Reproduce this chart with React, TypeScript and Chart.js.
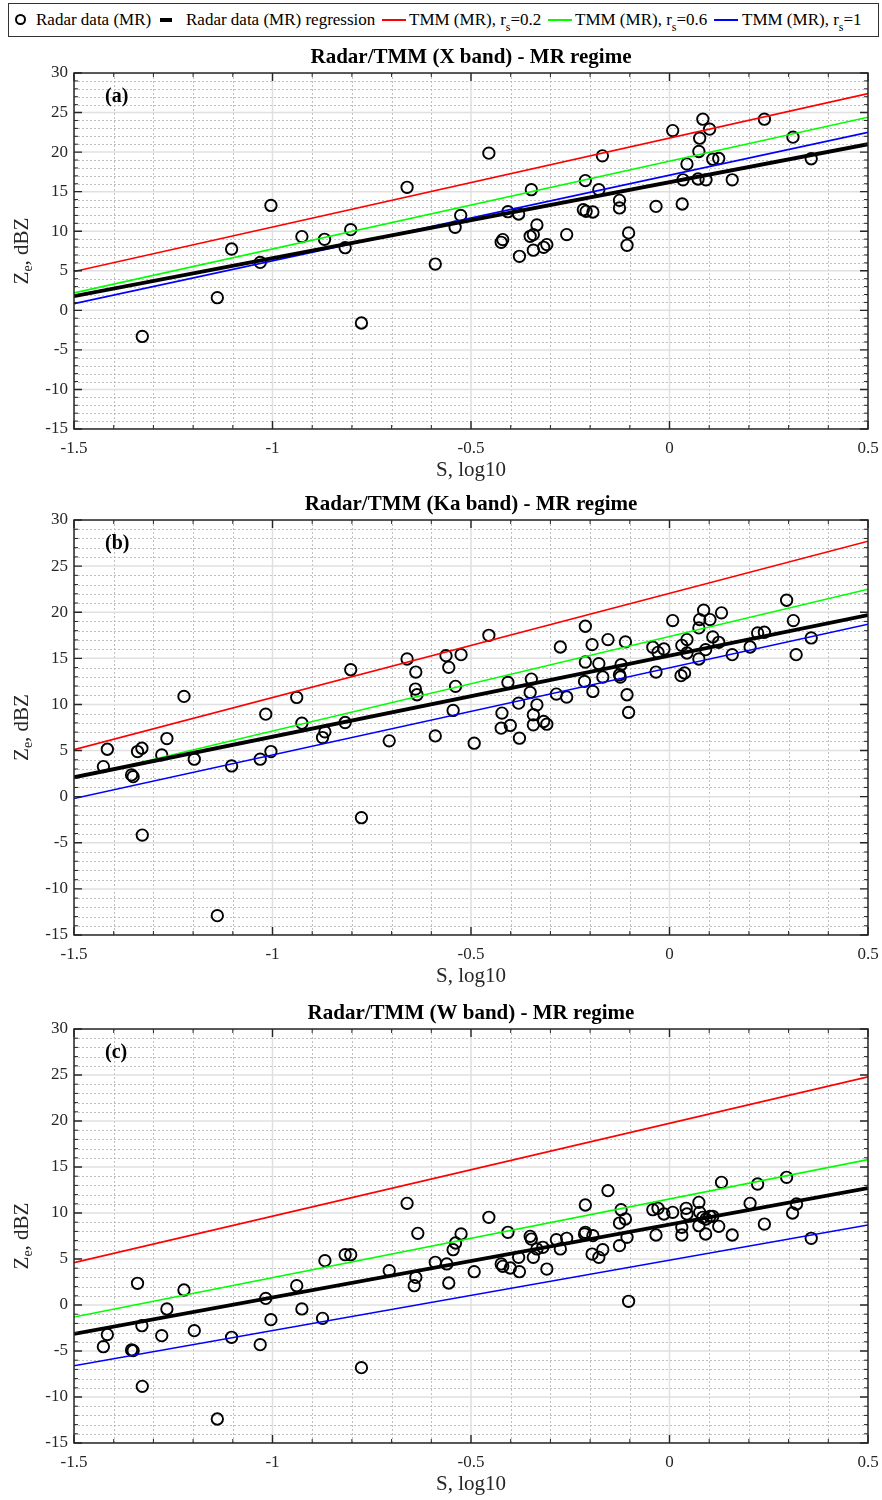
import { useEffect, useRef } from "react";
import { Chart, registerables } from "chart.js";

Chart.register(...registerables);

const SERIF = '"Liberation Serif", "Times New Roman", Times, serif';
const AXIS_COLOR = "#262626";

// Axis ticks (S in log10, Ze in dBZ)
const S_TICKS = [-1.5, -1, -0.5, 0, 0.5];
const Z_TICKS = [-15, -10, -5, 0, 5, 10, 15, 20, 25, 30];

// S end points of the straight lines
const LINE_S = [-1.5, 0.5];

// ---- X band ----
const X_S = [
  -1.328, -1.139, -1.103, -1.031, -1.004, -0.926, -0.869, -0.817, -0.803, -0.776, -0.661, -0.59,
  -0.54, -0.526, -0.455, -0.424, -0.42, -0.407, -0.38, -0.378, -0.348, -0.351, -0.343, -0.334,
  -0.343, -0.317, -0.309, -0.259, -0.212, -0.217, -0.21, -0.193, -0.178, -0.169, -0.126, -0.126,
  -0.103, -0.107, -0.034, 0.008, 0.032, 0.034, 0.044, 0.072, 0.074, 0.076, 0.084, 0.092, 0.101,
  0.109, 0.124, 0.158, 0.239, 0.311, 0.357,
];
const X_Z = [
  -3.3, 1.6, 7.75, 6.06, 13.26, 9.32, 8.98, 7.92, 10.2, -1.6, 15.55, 5.85,
  10.5, 12.0, 19.87, 8.6, 8.94, 12.47, 12.18, 6.83, 15.25, 9.36, 9.57, 10.79,
  7.6, 7.97, 8.31, 9.57, 16.4, 12.72, 12.51, 12.43, 15.25, 19.53, 13.9, 12.94,
  9.79, 8.22, 13.14, 22.72, 13.44, 16.5, 18.49, 16.6, 20.08, 21.76, 24.16, 16.5, 22.9,
  19.1, 19.19, 16.5, 24.16, 21.89, 19.16,
];
const X_REGRESSION = [1.8, 21.0];
const X_RS02 = [4.9, 27.4];
const X_RS06 = [2.2, 24.4];
const X_RS1 = [0.85, 22.5];

// ---- Ka band ----
const KA_S = [
  -1.426, -1.416, -1.355, -1.351, -1.34, -1.329, -1.328, -1.279, -1.266, -1.223, -1.197, -1.139,
  -1.103, -1.031, -1.017, -1.004, -0.939, -0.926, -0.874, -0.868, -0.817, -0.803, -0.776, -0.706,
  -0.661, -0.64, -0.639, -0.636, -0.59, -0.563, -0.556, -0.545, -0.539, -0.525, -0.492,
  -0.455, -0.422, -0.424, -0.407, -0.401, -0.378, -0.38, -0.348, -0.351, -0.343, -0.334, -0.343,
  -0.317, -0.309, -0.285, -0.275, -0.259, -0.212, -0.212, -0.214, -0.195, -0.193, -0.178, -0.168,
  -0.155, -0.122, -0.126, -0.124, -0.111, -0.107, -0.103, -0.042, -0.034, -0.029, -0.014, 0.008,
  0.031, 0.029, 0.038, 0.044, 0.044, 0.074, 0.074, 0.076, 0.086, 0.091, 0.102, 0.109, 0.124,
  0.131, 0.158, 0.203, 0.222, 0.239, 0.295, 0.312, 0.319, 0.357,
];
const KA_Z = [
  3.26, 5.14, 2.36, 2.17, 4.89, 5.25, -4.17, 4.53, 6.3, 10.87, 4.06, -12.9,
  3.33, 4.06, 8.95, 4.89, 10.76, 7.97, 6.41, 7.03, 8.04, 13.77, -2.28, 6.05,
  14.93, 11.67, 13.51, 11.05, 6.59, 15.29, 14.02, 9.35, 11.96, 15.4, 5.8,
  17.5, 9.06, 7.43, 12.39, 7.72, 6.34, 10.14, 12.75, 11.3, 8.88, 9.96, 7.79,
  8.15, 7.86, 11.12, 16.23, 10.8, 18.48, 14.6, 12.5, 16.49, 11.41, 14.42, 12.97,
  17.03, 14.31, 13.22, 12.97, 16.78, 11.05, 9.13, 16.2, 13.51, 15.65, 16.01, 19.09,
  16.41, 13.12, 13.41, 17.03, 15.58, 14.93, 18.3, 19.2, 20.22, 15.94, 19.2, 17.32, 16.74,
  19.93, 15.4, 16.23, 17.75, 17.83, 21.3, 19.09, 15.4, 17.21,
];
const KA_REGRESSION = [2.1, 19.7];
const KA_RS02 = [5.1, 27.7];
const KA_RS06 = [2.0, 22.5];
const KA_RS1 = [-0.2, 18.7];

// ---- W band ----
const W_S = [
  -1.426, -1.416, -1.355, -1.351, -1.34, -1.329, -1.328, -1.279, -1.266, -1.223, -1.197, -1.139,
  -1.103, -1.031, -1.017, -1.004, -0.939, -0.926, -0.874, -0.868, -0.817, -0.803, -0.776, -0.706,
  -0.661, -0.643, -0.639, -0.634, -0.59, -0.561, -0.556, -0.545, -0.539, -0.525, -0.492,
  -0.455, -0.424, -0.42, -0.407, -0.401, -0.378, -0.38, -0.351, -0.348, -0.343, -0.334, -0.319,
  -0.309, -0.285, -0.275, -0.259, -0.212, -0.212, -0.214, -0.193, -0.195, -0.178, -0.168, -0.155,
  -0.126, -0.122, -0.126, -0.111, -0.107, -0.103, -0.042, -0.034, -0.029, -0.014, 0.008, 0.031,
  0.031, 0.042, 0.044, 0.074, 0.074, 0.076, 0.084, 0.091, 0.092, 0.102, 0.109, 0.124, 0.131,
  0.158, 0.203, 0.222, 0.239, 0.295, 0.31, 0.32, 0.357,
];
const W_Z = [
  -4.53, -3.22, -4.89, -4.96, 2.36, -2.25, -8.84, -3.33, -0.43, 1.63, -2.79, -12.39,
  -3.51, -4.31, 0.72, -1.59, 2.1, -0.43, -1.45, 4.82, 5.47, 5.47, -6.81, 3.73,
  11.05, 2.1, 3.0, 7.79, 4.64, 4.46, 2.39, 6.01, 6.74, 7.72, 3.62,
  9.53, 4.46, 4.2, 7.9, 4.02, 3.62, 5.18, 7.46, 7.17, 5.18, 6.09, 6.27,
  3.91, 7.1, 6.09, 7.25, 10.87, 7.9, 7.72, 7.54, 5.54, 5.18, 6.01, 12.43,
  6.45, 10.36, 8.91, 9.35, 7.36, 0.4, 10.36, 7.61, 10.51, 9.89, 10.07, 8.44,
  7.61, 10.51, 9.89, 11.16, 8.62, 10.07, 9.53, 7.72, 9.35, 9.64, 9.64, 8.55, 13.33,
  7.61, 11.05, 13.15, 8.8, 13.88, 10.0, 10.98, 7.25,
];
const W_REGRESSION = [-3.15, 12.7];
const W_RS02 = [4.6, 24.8];
const W_RS06 = [-1.3, 15.8];
const W_RS1 = [-6.6, 8.7];

type Panel = {
  title: string;
  tag: string;
  s: number[];
  z: number[];
  regression: number[];
  rs02: number[];
  rs06: number[];
  rs1: number[];
  top: number;
  height: number;
};

const PANELS: Panel[] = [
  { title: "Radar/TMM (X band) - MR regime", tag: "(a)", s: X_S, z: X_Z, regression: X_REGRESSION, rs02: X_RS02, rs06: X_RS06, rs1: X_RS1, top: 40, height: 445 },
  { title: "Radar/TMM (Ka band) - MR regime", tag: "(b)", s: KA_S, z: KA_Z, regression: KA_REGRESSION, rs02: KA_RS02, rs06: KA_RS06, rs1: KA_RS1, top: 487, height: 504 },
  { title: "Radar/TMM (W band) - MR regime", tag: "(c)", s: W_S, z: W_Z, regression: W_REGRESSION, rs02: W_RS02, rs06: W_RS06, rs1: W_RS1, top: 996, height: 503 },
];

type Part = { t: string; sub?: boolean };

// Draws a run of text with optional subscript pieces, centred on (x, y)
function drawRich(ctx: CanvasRenderingContext2D, parts: Part[], x: number, y: number, size: number) {
  const fontFor = (p: Part) => `${p.sub ? Math.round(size * 0.68) : size}px ${SERIF}`;
  let total = 0;
  const widths = parts.map((p) => {
    ctx.font = fontFor(p);
    const w = ctx.measureText(p.t).width;
    total += w;
    return w;
  });
  let cx = x - total / 2;
  ctx.textAlign = "left";
  ctx.textBaseline = "middle";
  parts.forEach((p, i) => {
    ctx.font = fontFor(p);
    ctx.fillText(p.t, cx, p.sub ? y + size * 0.32 : y);
    cx += widths[i];
  });
}

function minorValues(major: number[], parts: number): number[] {
  const out: number[] = [];
  for (let i = 0; i < major.length - 1; i++) {
    const a = major[i];
    const b = major[i + 1];
    for (let k = 1; k < parts; k++) out.push(a + ((b - a) * k) / parts);
  }
  return out;
}

function framePlugin(panel: Panel) {
  return {
    id: "frame",
    beforeDatasetsDraw(chart: any) {
      const { ctx, chartArea: a } = chart;
      const xs = chart.scales.x;
      const ys = chart.scales.y;
      const xMajor = xs.ticks.map((t: any) => t.value);
      const yMajor = ys.ticks.map((t: any) => t.value);
      ctx.save();
      ctx.beginPath();
      ctx.rect(a.left, a.top, a.right - a.left, a.bottom - a.top);
      ctx.clip();
      // minor grid, dotted
      ctx.strokeStyle = "#bfbfbf";
      ctx.lineWidth = 1;
      ctx.setLineDash([2, 2]);
      minorValues(xMajor, 5).forEach((v) => {
        const p = Math.round(xs.getPixelForValue(v)) + 0.5;
        ctx.beginPath();
        ctx.moveTo(p, a.top);
        ctx.lineTo(p, a.bottom);
        ctx.stroke();
      });
      minorValues(yMajor, 5).forEach((v) => {
        const p = Math.round(ys.getPixelForValue(v)) + 0.5;
        ctx.beginPath();
        ctx.moveTo(a.left, p);
        ctx.lineTo(a.right, p);
        ctx.stroke();
      });
      // major grid, solid
      ctx.setLineDash([]);
      ctx.strokeStyle = "#e0e0e0";
      ctx.lineWidth = 1.5;
      xMajor.forEach((v: number) => {
        const p = xs.getPixelForValue(v);
        ctx.beginPath();
        ctx.moveTo(p, a.top);
        ctx.lineTo(p, a.bottom);
        ctx.stroke();
      });
      yMajor.forEach((v: number) => {
        const p = ys.getPixelForValue(v);
        ctx.beginPath();
        ctx.moveTo(a.left, p);
        ctx.lineTo(a.right, p);
        ctx.stroke();
      });
      ctx.restore();
    },
    afterDraw(chart: any) {
      const { ctx, chartArea: a } = chart;
      const xs = chart.scales.x;
      const ys = chart.scales.y;
      const xMajor = xs.ticks.map((t: any) => t.value);
      const yMajor = ys.ticks.map((t: any) => t.value);
      ctx.save();
      ctx.strokeStyle = AXIS_COLOR;
      ctx.lineWidth = 1.4;
      // inward ticks on all four sides
      const tickX = (v: number, len: number) => {
        const p = xs.getPixelForValue(v);
        ctx.beginPath();
        ctx.moveTo(p, a.bottom);
        ctx.lineTo(p, a.bottom - len);
        ctx.moveTo(p, a.top);
        ctx.lineTo(p, a.top + len);
        ctx.stroke();
      };
      const tickY = (v: number, len: number) => {
        const p = ys.getPixelForValue(v);
        ctx.beginPath();
        ctx.moveTo(a.left, p);
        ctx.lineTo(a.left + len, p);
        ctx.moveTo(a.right, p);
        ctx.lineTo(a.right - len, p);
        ctx.stroke();
      };
      xMajor.forEach((v: number) => tickX(v, 8));
      yMajor.forEach((v: number) => tickY(v, 8));
      ctx.lineWidth = 1;
      minorValues(xMajor, 5).forEach((v) => tickX(v, 4));
      minorValues(yMajor, 5).forEach((v) => tickY(v, 4));
      // axes box
      ctx.lineWidth = 1.5;
      ctx.strokeRect(a.left, a.top, a.right - a.left, a.bottom - a.top);

      const cx = (a.left + a.right) / 2;
      const cy = (a.top + a.bottom) / 2;
      // title
      ctx.fillStyle = "#000";
      ctx.font = `bold 21px ${SERIF}`;
      ctx.textAlign = "center";
      ctx.textBaseline = "middle";
      ctx.fillText(panel.title, cx, a.top - 15);
      // panel tag
      ctx.font = `bold 20px ${SERIF}`;
      ctx.textAlign = "left";
      ctx.fillText(panel.tag, a.left + 31, a.top + 24);
      // x axis title
      ctx.fillStyle = AXIS_COLOR;
      ctx.font = `21px ${SERIF}`;
      ctx.textAlign = "center";
      ctx.fillText("S, log10", cx, a.bottom + 41);
      // y axis title with subscript
      ctx.translate(22, cy);
      ctx.rotate(-Math.PI / 2);
      drawRich(ctx, [{ t: "Z" }, { t: "e", sub: true }, { t: ", dBZ" }], 0, 0, 21);
      ctx.restore();
    },
  };
}

function lineSet(values: number[], color: string, width: number) {
  return {
    type: "line" as const,
    data: LINE_S.map((s, i) => ({ x: s, y: values[i] })),
    borderColor: color,
    borderWidth: width,
    pointRadius: 0,
    fill: false,
    tension: 0,
    showLine: true,
  };
}

function makeConfig(panel: Panel): any {
  const tickFont = { family: SERIF, size: 17 };
  return {
    type: "scatter",
    data: {
      datasets: [
        lineSet(panel.regression, "#000000", 3.8),
        lineSet(panel.rs02, "#ff0000", 1.6),
        lineSet(panel.rs06, "#00ff00", 1.6),
        lineSet(panel.rs1, "#0000ff", 1.6),
        {
          type: "scatter",
          data: panel.s.map((s, i) => ({ x: s, y: panel.z[i] })),
          pointStyle: "circle",
          pointRadius: 5.7,
          borderWidth: 1.9,
          borderColor: "#000000",
          backgroundColor: "rgba(0,0,0,0)",
          showLine: false,
        },
      ],
    },
    options: {
      animation: false,
      responsive: false,
      maintainAspectRatio: false,
      events: [],
      layout: { padding: { top: 33, right: 14, left: 0, bottom: 0 } },
      plugins: { legend: { display: false }, tooltip: { enabled: false }, title: { display: false } },
      scales: {
        x: {
          type: "linear",
          min: S_TICKS[0],
          max: S_TICKS[S_TICKS.length - 1],
          grid: { display: false, drawTicks: false },
          border: { display: false },
          ticks: {
            stepSize: S_TICKS[1] - S_TICKS[0],
            font: tickFont,
            color: AXIS_COLOR,
            padding: 9,
            maxRotation: 0,
            autoSkip: false,
            callback: (v: number) => String(Math.round(v * 10) / 10),
          },
          afterFit: (scale: any) => {
            scale.height = 56;
            scale.paddingLeft = 0;
            scale.paddingRight = 0;
          },
        },
        y: {
          type: "linear",
          min: Z_TICKS[0],
          max: Z_TICKS[Z_TICKS.length - 1],
          grid: { display: false, drawTicks: false },
          border: { display: false },
          ticks: {
            stepSize: Z_TICKS[1] - Z_TICKS[0],
            font: tickFont,
            color: AXIS_COLOR,
            padding: 6,
            autoSkip: false,
            callback: (v: number) => String(Math.round(v)),
          },
          afterFit: (scale: any) => {
            scale.width = 74;
            scale.paddingTop = 0;
            scale.paddingBottom = 0;
          },
        },
      },
    },
    plugins: [framePlugin(panel)],
  };
}

function PanelChart({ panel }: { panel: Panel }) {
  const ref = useRef<HTMLCanvasElement>(null);
  useEffect(() => {
    if (!ref.current) return;
    const chart = new Chart(ref.current, makeConfig(panel));
    return () => chart.destroy();
  }, [panel]);
  return (
    <canvas
      ref={ref}
      width={882}
      height={panel.height}
      style={{ position: "absolute", left: 0, top: panel.top, width: 882, height: panel.height }}
    />
  );
}

const LEGEND_FONT = 17;

function Sub({ children }: { children: string }) {
  return <span style={{ fontSize: 12, position: "relative", top: 6 }}>{children}</span>;
}

function Legend() {
  const txt = (left: number) =>
    ({ position: "absolute", left, top: 6, lineHeight: "20px", whiteSpace: "nowrap" } as const);
  const bar = (left: number, width: number, color: string, h: number) =>
    ({ position: "absolute", left, width, top: 16 - h / 2, height: h, background: color } as const);
  return (
    <div
      style={{
        position: "absolute",
        left: 8,
        top: 3,
        width: 871,
        height: 34,
        boxSizing: "border-box",
        border: "1.5px solid #333",
        background: "#fff",
        fontFamily: SERIF,
        fontSize: LEGEND_FONT,
        color: "#000",
      }}
    >
      <span
        style={{
          position: "absolute",
          left: 6,
          top: 10,
          width: 11,
          height: 11,
          boxSizing: "border-box",
          border: "2.4px solid #000",
          borderRadius: "50%",
        }}
      />
      <span style={txt(27)}>Radar data (MR)</span>
      <span style={bar(151, 12, "#000", 4.5)} />
      <span style={txt(177)}>Radar data (MR) regression</span>
      <span style={bar(373, 24, "#ff0000", 1.6)} />
      <span style={txt(400)}>
        TMM (MR), r<Sub>s</Sub>=0.2
      </span>
      <span style={bar(539, 24, "#00ff00", 1.6)} />
      <span style={txt(566)}>
        TMM (MR), r<Sub>s</Sub>=0.6
      </span>
      <span style={bar(705, 24, "#0000ff", 1.6)} />
      <span style={txt(733)}>
        TMM (MR), r<Sub>s</Sub>=1
      </span>
    </div>
  );
}

export default function App() {
  return (
    <div style={{ position: "absolute", left: 0, top: 0, width: 882, height: 1500, background: "#fff" }}>
      <Legend />
      {PANELS.map((p) => (
        <PanelChart key={p.tag} panel={p} />
      ))}
    </div>
  );
}
